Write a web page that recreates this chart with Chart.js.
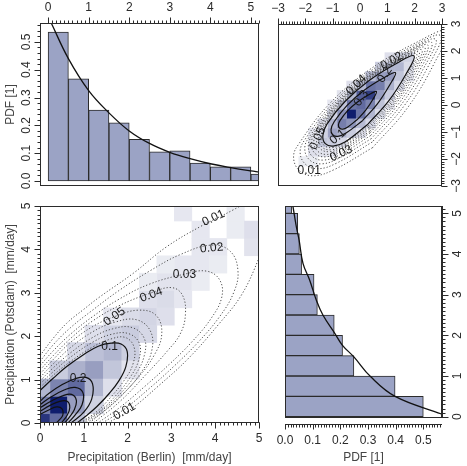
<!DOCTYPE html>
<html>
<head>
<meta charset="utf-8">
<script src="https://cdn.jsdelivr.net/npm/chart.js@4.4.1/dist/chart.umd.min.js"></script>
<style>
html, body { margin: 0; padding: 0; background: #fff; }
#wrap { position: relative; width: 467px; height: 466px; }
#wrap canvas { position: absolute; left: 0; top: 0; }
</style>
</head>
<body>
<div id="wrap">
  <canvas id="tl" width="467" height="466"></canvas>
  <canvas id="tr" width="467" height="466"></canvas>
  <canvas id="bl" width="467" height="466"></canvas>
  <canvas id="br" width="467" height="466"></canvas>
</div>
<script>
// marginal histograms, bins of 0.5 mm/day
var binMid = [0.25, 0.75, 1.25, 1.75, 2.25, 2.75, 3.25, 3.75, 4.25, 4.75, 5.25];
var berlinPdf = [0.535, 0.367, 0.255, 0.209, 0.150, 0.105, 0.108, 0.064, 0.051, 0.051, 0.025];
var potsdamPdf = [0.500, 0.398, 0.249, 0.208, 0.178, 0.117, 0.105, 0.060, 0.052, 0.046, 0.024];

// fitted marginal densities
var berlinFitX = [0.08, 0.5, 1.0, 1.5, 2.0, 2.5, 3.0, 3.5, 4.0, 4.5, 5.0, 5.2];
var berlinFitY = [0.567, 0.44, 0.325, 0.245, 0.18, 0.135, 0.103, 0.08, 0.062, 0.048, 0.036, 0.032];
var potsdamFitY = [0.066, 0.5, 0.98, 1.47, 1.76, 2.05, 2.5, 2.87, 3.36, 3.77, 4.34, 4.67, 5.16];
var potsdamFitX = [0.566, 0.398, 0.31, 0.249, 0.207, 0.18, 0.137, 0.113, 0.089, 0.065, 0.051, 0.041, 0.029];

// tick labels
var pdfTicks = [0, 0.1, 0.2, 0.3, 0.4, 0.5];
var mmTicks = [0, 1, 2, 3, 4, 5];
var normTicks = [-3, -2, -1, 0, 1, 2, 3];

// top right: normal-score space, cells of 0.35 [left, bottom, shade]
var trCellSize = 0.35;
var trCells = [
  [-1.9,-1.9,0.06],[-1.55,-1.55,0.14],[-1.2,-1.2,0.28],[-0.85,-0.85,0.45],[-0.5,-0.5,1.0],[-0.15,-0.15,0.55],
  [0.2,0.2,0.8],[0.55,0.55,0.45],[0.9,0.9,0.32],[1.25,1.25,0.2],[1.6,1.6,0.1],
  [-1.55,-1.9,0.05],[-1.2,-1.55,0.12],[-0.85,-1.2,0.22],[-0.5,-0.85,0.35],[-0.15,-0.5,0.5],[0.2,-0.15,0.42],
  [0.55,0.2,0.3],[0.9,0.55,0.22],[1.25,0.9,0.14],[1.6,1.25,0.07],
  [-1.9,-1.55,0.05],[-1.55,-1.2,0.1],[-1.2,-0.85,0.2],[-0.85,-0.5,0.35],[-0.5,-0.15,0.5],[-0.15,0.2,0.62],
  [0.2,0.55,0.5],[0.55,0.9,0.3],[0.9,1.25,0.2],[1.25,1.6,0.1],
  [-1.2,-1.9,0.04],[-0.85,-1.55,0.08],[-0.5,-1.2,0.12],[-0.15,-0.85,0.18],[0.2,-0.5,0.2],[0.55,-0.15,0.15],
  [0.9,0.2,0.12],[1.25,0.55,0.08],[1.6,0.9,0.05],
  [-1.9,-1.2,0.04],[-1.55,-0.85,0.06],[-1.2,-0.5,0.1],[-0.85,-0.15,0.15],[-0.5,0.2,0.2],[-0.15,0.55,0.2],
  [0.2,0.9,0.18],[0.55,1.25,0.12],[0.9,1.6,0.06],
  [-0.15,-1.2,0.06],[0.2,-0.85,0.08],[0.55,-0.5,0.07],[0.9,-0.15,0.05],[-0.85,0.2,0.05],[-0.5,0.55,0.06],
  [-1.2,-0.15,0.04],[-2.25,-2.25,0.03],[-1.9,-2.25,0.03]
];

// top right contours (closed)
var trC30 = [[-0.11,-0.55],[-0.46,-0.82],[-0.63,-0.89],[-0.75,-0.85],[-0.79,-0.73],[-0.72,-0.56],[-0.45,-0.21],[-0.09,0.11],[0.32,0.38],[0.6,0.5],[0.48,0.22],[0.21,-0.19],[-0.11,-0.55]];
var trC20 = [[0.09,-0.58],[-0.51,-1.04],[-0.81,-1.16],[-1.0,-1.1],[-1.06,-0.91],[-0.94,-0.61],[-0.48,-0.02],[0.13,0.53],[0.83,0.98],[1.3,1.2],[1.08,0.73],[0.63,0.03],[0.09,-0.58]];
var trC10 = [[0.29,-0.71],[-0.55,-1.37],[-0.98,-1.52],[-1.27,-1.43],[-1.36,-1.14],[-1.21,-0.71],[-0.55,0.13],[0.31,0.89],[1.3,1.52],[1.98,1.82],[1.68,1.14],[1.05,0.15],[0.29,-0.71]];
var trC09 = [[0.31,-0.77],[-0.57,-1.42],[-1.03,-1.58],[-1.33,-1.48],[-1.43,-1.18],[-1.27,-0.75],[-0.59,0.13],[0.31,0.93],[1.36,1.58],[2.07,1.89],[1.76,1.18],[1.11,0.13],[0.31,-0.77]];
var trC08 = [[0.33,-0.83],[-0.6,-1.5],[-1.08,-1.66],[-1.4,-1.55],[-1.51,-1.23],[-1.35,-0.8],[-0.63,0.13],[0.31,0.96],[1.41,1.64],[2.16,1.96],[1.84,1.21],[1.16,0.11],[0.33,-0.83]];
var trC07 = [[0.35,-0.89],[-0.62,-1.56],[-1.13,-1.73],[-1.47,-1.61],[-1.59,-1.27],[-1.42,-0.84],[-0.67,0.13],[0.32,1.0],[1.47,1.71],[2.26,2.04],[1.93,1.25],[1.22,0.1],[0.35,-0.89]];
var trC06 = [[0.36,-0.97],[-0.67,-1.65],[-1.2,-1.83],[-1.56,-1.7],[-1.69,-1.34],[-1.51,-0.91],[-0.73,0.12],[0.32,1.03],[1.54,1.78],[2.37,2.13],[2.02,1.3],[1.27,0.08],[0.36,-0.97]];
var trC05 = [[0.37,-1.03],[-0.71,-1.74],[-1.27,-1.92],[-1.65,-1.79],[-1.78,-1.41],[-1.6,-0.97],[-0.77,0.11],[0.33,1.07],[1.6,1.86],[2.48,2.22],[2.12,1.34],[1.33,0.07],[0.37,-1.03]];
var trC04 = [[0.39,-1.13],[-0.75,-1.85],[-1.34,-2.04],[-1.75,-1.9],[-1.89,-1.49],[-1.7,-1.05],[-0.83,0.09],[0.34,1.11],[1.69,1.94],[2.62,2.32],[2.24,1.39],[1.41,0.04],[0.39,-1.13]];
var trC03 = [[0.42,-1.24],[-0.79,-1.98],[-1.42,-2.18],[-1.86,-2.02],[-2.02,-1.58],[-1.82,-1.13],[-0.9,0.08],[0.34,1.16],[1.78,2.03],[2.77,2.43],[2.37,1.44],[1.5,0.0],[0.42,-1.24]];
var trC02 = [[0.45,-1.37],[-0.85,-2.15],[-1.54,-2.36],[-2.01,-2.18],[-2.19,-1.71],[-1.98,-1.23],[-0.99,0.07],[0.33,1.22],[1.88,2.15],[2.95,2.57],[2.53,1.5],[1.6,-0.05],[0.45,-1.37]];
var trC01 = [[0.46,-1.58],[-0.96,-2.4],[-1.71,-2.62],[-2.23,-2.42],[-2.43,-1.9],[-2.21,-1.4],[-1.14,0.02],[0.31,1.28],[2.01,2.29],[3.18,2.74],[2.73,1.57],[1.72,-0.13],[0.46,-1.58]];

var trLabelText = ['0.3', '0.2', '0.1', '0.05', '0.04', '0.03', '0.02', '0.01'];
var trLabelX = [0.05, 0.91, -0.81, -1.55, -0.13, -0.69, 1.16, -1.86];
var trLabelY = [0.25, 1.12, -1.18, -1.24, 0.74, -1.8, 1.63, -2.42];
var trLabelAngle = [-55, -55, -40, -65, -45, -25, -30, 0];

// bottom left: 2d histogram in mm/day, bin edges and [col, row, shade]
var blEdges = [0, 0.22, 0.62, 1.02, 1.44, 1.86, 2.26, 2.66, 3.06, 3.46, 3.86, 4.26, 4.66, 5.06];
var blCells = [
  [0,0,0.85],[1,1,1.0],[1,0,0.55],[0,1,0.45],[2,2,0.55],[1,2,0.42],[2,1,0.3],[0,2,0.2],[2,0,0.15],
  [3,3,0.3],[2,3,0.22],[3,2,0.2],[1,3,0.12],[3,1,0.1],[4,4,0.2],[3,4,0.16],[4,3,0.14],[2,4,0.08],[4,2,0.06],
  [5,5,0.12],[4,5,0.1],[5,4,0.11],[3,5,0.06],[5,3,0.05],[6,6,0.09],[5,6,0.07],[6,5,0.08],[4,6,0.04],
  [7,7,0.07],[6,7,0.06],[7,6,0.06],[8,8,0.05],[7,8,0.05],[8,7,0.04],[9,9,0.04],[8,9,0.04],[9,10,0.04],
  [10,10,0.04],[11,11,0.03],[12,10,0.05],[9,11,0.04],[8,12,0.04],[11,12,0.03],[12,11,0.06],[10,9,0.03],
  [7,9,0.03],[6,8,0.03],[9,8,0.03]
];

// bottom left contours, from the left edge round to the bottom edge
var blC60 = [[0,0.2],[0.2,0.3],[0.38,0.37],[0.5,0.33],[0.52,0.18],[0.44,0.07],[0.37,0]];
var blC50 = [[0,0.27],[0.22,0.4],[0.45,0.5],[0.62,0.5],[0.68,0.36],[0.62,0.18],[0.49,0]];
var blC40 = [[0,0.35],[0.25,0.5],[0.5,0.62],[0.72,0.66],[0.83,0.52],[0.78,0.3],[0.66,0.12],[0.56,0]];
var blC30 = [[0,0.42],[0.25,0.6],[0.55,0.76],[0.8,0.82],[0.98,0.7],[0.96,0.42],[0.8,0.18],[0.64,0]];
var blC20 = [[0,0.5],[0.2,0.68],[0.5,0.88],[0.8,1.02],[1.05,1.05],[1.2,0.9],[1.18,0.55],[1.0,0.25],[0.71,0]];
var blC10 = [[0,0.75],[0.3,1.03],[0.61,1.3],[1.0,1.58],[1.33,1.77],[1.62,1.84],[1.85,1.82],[1.99,1.65],[1.96,1.3],[1.8,0.97],[1.58,0.68],[1.3,0.38],[1.05,0.16],[0.84,0]];
var blC09 = [[0,0.82],[0.3,1.1],[0.7,1.42],[1.2,1.75],[1.6,1.93],[1.95,1.97],[2.15,1.74],[2.12,1.35],[1.92,0.98],[1.62,0.6],[1.28,0.25],[0.89,0]];
var blC08 = [[0,0.9],[0.3,1.18],[0.7,1.52],[1.2,1.86],[1.62,2.04],[2.02,2.06],[2.27,1.83],[2.25,1.44],[2.05,1.04],[1.72,0.62],[1.35,0.26],[0.94,0]];
var blC07 = [[0,0.97],[0.3,1.27],[0.7,1.62],[1.2,1.97],[1.66,2.17],[2.1,2.2],[2.38,1.95],[2.38,1.55],[2.17,1.1],[1.82,0.66],[1.42,0.29],[1.0,0]];
var blC06 = [[0,1.05],[0.3,1.36],[0.7,1.74],[1.2,2.1],[1.7,2.32],[2.2,2.38],[2.52,2.12],[2.55,1.66],[2.32,1.18],[1.93,0.7],[1.5,0.3],[1.06,0]];
var blC05 = [[0,1.13],[0.3,1.46],[0.7,1.86],[1.2,2.22],[1.7,2.45],[2.25,2.6],[2.65,2.48],[2.78,2.05],[2.6,1.55],[2.2,1.0],[1.68,0.47],[1.13,0]];
var blC04 = [[0,1.22],[0.3,1.55],[0.7,1.95],[1.2,2.35],[1.8,2.7],[2.54,3.0],[3.0,3.12],[3.25,2.95],[3.32,2.5],[3.2,2.05],[2.9,1.65],[2.45,1.15],[1.85,0.52],[1.22,0]];
var blC03 = [[0,1.32],[0.3,1.66],[0.7,2.05],[1.2,2.45],[1.8,2.85],[2.5,3.2],[3.3,3.43],[3.8,3.5],[4.1,3.3],[4.15,2.9],[3.9,2.4],[3.45,1.85],[2.95,1.35],[2.4,0.85],[1.85,0.38],[1.32,0]];
var blC02 = [[0,1.42],[0.3,1.8],[0.7,2.2],[1.2,2.6],[1.8,3.05],[2.5,3.5],[3.2,3.88],[3.92,4.1],[4.35,3.95],[4.52,3.5],[4.42,3.0],[4.1,2.45],[3.6,1.85],[3.05,1.3],[2.5,0.8],[1.9,0.3],[1.42,0]];
var blC01 = [[0,1.55],[0.3,1.95],[0.61,2.3],[1.0,2.62],[1.37,2.91],[2.13,3.45],[2.89,4.06],[3.65,4.52],[4.41,4.91],[4.9,5.2],[5.4,5.5],[5.5,4.9],[5.3,4.6],[5.0,3.8],[4.6,2.95],[4.1,2.3],[3.4,1.5],[2.7,0.85],[2.05,0.3],[1.55,0]];

var blLabelText = ['0.01', '0.02', '0.03', '0.04', '0.05', '0.1', '0.2', '0.01'];
var blLabelX = [3.96, 3.92, 3.3, 2.54, 1.7, 1.59, 0.87, 1.93];
var blLabelY = [4.72, 4.03, 3.41, 2.95, 2.45, 1.76, 1.03, 0.27];
var blLabelAngle = [-25, -5, 0, -20, -35, 0, 0, -30];

Chart.defaults.font.family = '"Liberation Sans", Arial, sans-serif';
Chart.defaults.font.size = 12;
Chart.defaults.color = '#333';

var barFill = '#9ba3c5';
var ink = '#2b2b2b';

function shade(v) {
  var t = Math.pow(v, 0.7);
  var r = Math.round(255 - t * 240), g = Math.round(255 - t * 226), b = Math.round(255 - t * 146);
  return 'rgb(' + r + ',' + g + ',' + b + ')';
}

function pts(list) {
  return list.map(function(p) { return {x: p[0], y: p[1]}; });
}

function contour(list, solid) {
  return {
    data: pts(list),
    showLine: true,
    pointRadius: 0,
    borderColor: solid ? '#111' : '#4d4d4d',
    borderWidth: solid ? 1.2 : 1,
    borderDash: solid ? [] : [1.2, 2],
    tension: 0.4,
    fill: false,
    clip: 0
  };
}

function fixSize(size) {
  return function(scale) {
    if (scale.isHorizontal()) scale.height = size; else scale.width = size;
    scale.paddingLeft = 0; scale.paddingRight = 0; scale.paddingTop = 0; scale.paddingBottom = 0;
  };
}

function setTicks(values) {
  return function(scale) {
    scale.ticks = values.map(function(v) { return {value: v}; });
  };
}

function minus(v) { return String(v).replace('-', '\u2212'); }
function oneDec(v) { return v.toFixed(1); }

function axisScale(o) {
  var s = {
    type: 'linear',
    position: o.position,
    min: o.min,
    max: o.max,
    offset: false,
    grid: { display: false, drawTicks: false, offset: false },
    border: { display: false },
    afterBuildTicks: setTicks(o.ticks),
    afterFit: fixSize(o.size),
    ticks: {
      autoSkip: false,
      padding: o.pad,
      color: ink,
      font: { size: 12 },
      callback: o.fmt
    }
  };
  if (o.rotate) {
    s.ticks.minRotation = 90;
    s.ticks.maxRotation = 90;
    s.ticks.crossAlign = 'center';
  }
  if (o.title) {
    s.title = { display: true, text: o.title, color: '#444', font: { size: 12 }, padding: o.titlePad };
  }
  return s;
}

// frame, major/minor tick marks and offset axis lines
function framePlugin(specs) {
  return {
    id: 'frame',
    afterDraw: function(chart) {
      var ctx = chart.ctx, a = chart.chartArea;
      ctx.save();
      ctx.setLineDash([]);
      ctx.strokeStyle = ink;
      ctx.lineWidth = 1;
      ctx.strokeRect(a.left + 0.5, a.top + 0.5, a.right - a.left - 1, a.bottom - a.top - 1);
      specs.forEach(function(s) {
        var sc = chart.scales[s.id];
        var horiz = s.side === 'top' || s.side === 'bottom';
        var base, dir;
        if (s.side === 'top') { base = a.top + 0.5 - s.offset; dir = -1; }
        else if (s.side === 'bottom') { base = a.bottom - 0.5 + s.offset; dir = 1; }
        else if (s.side === 'left') { base = a.left + 0.5 - s.offset; dir = -1; }
        else { base = a.right - 0.5 + s.offset; dir = 1; }
        var marks = [];
        for (var v = s.from; v <= s.to + 1e-9; v += s.step) marks.push([v, s.minorLen]);
        s.major.forEach(function(m) { marks.push([m, s.majorLen]); });
        ctx.beginPath();
        if (s.offset > 0) {
          var p0 = sc.getPixelForValue(s.lineFrom), p1 = sc.getPixelForValue(s.lineTo);
          if (horiz) { ctx.moveTo(p0, base); ctx.lineTo(p1, base); }
          else { ctx.moveTo(base, p0); ctx.lineTo(base, p1); }
        }
        marks.forEach(function(mk) {
          var p = Math.round(sc.getPixelForValue(mk[0])) + 0.5;
          if (horiz) { ctx.moveTo(p, base); ctx.lineTo(p, base + dir * mk[1]); }
          else { ctx.moveTo(base, p); ctx.lineTo(base + dir * mk[1], p); }
        });
        ctx.stroke();
      });
      ctx.restore();
    }
  };
}

function cellPlugin(rects) {
  return {
    id: 'cells',
    beforeDatasetsDraw: function(chart) {
      var ctx = chart.ctx, a = chart.chartArea, xs = chart.scales.x, ys = chart.scales.y;
      ctx.save();
      ctx.beginPath();
      ctx.rect(a.left, a.top, a.right - a.left, a.bottom - a.top);
      ctx.clip();
      rects.forEach(function(c) {
        var x0 = xs.getPixelForValue(c[0]), x1 = xs.getPixelForValue(c[1]);
        var y0 = ys.getPixelForValue(c[2]), y1 = ys.getPixelForValue(c[3]);
        ctx.fillStyle = shade(c[4]);
        ctx.fillRect(Math.min(x0, x1), Math.min(y0, y1), Math.abs(x1 - x0) + 0.6, Math.abs(y1 - y0) + 0.6);
      });
      ctx.restore();
    }
  };
}

function labelPlugin(text, xs, ys, angles) {
  return {
    id: 'clabels',
    afterDatasetsDraw: function(chart) {
      var ctx = chart.ctx, sx = chart.scales.x, sy = chart.scales.y, a = chart.chartArea;
      ctx.save();
      ctx.beginPath();
      ctx.rect(a.left, a.top, a.right - a.left, a.bottom - a.top);
      ctx.clip();
      ctx.font = '12px "Liberation Sans", Arial, sans-serif';
      ctx.fillStyle = '#1a1a1a';
      ctx.textAlign = 'center';
      ctx.textBaseline = 'middle';
      text.forEach(function(t, i) {
        ctx.save();
        ctx.translate(sx.getPixelForValue(xs[i]), sy.getPixelForValue(ys[i]));
        ctx.rotate(angles[i] * Math.PI / 180);
        ctx.fillText(t, 0, 0);
        ctx.restore();
      });
      ctx.restore();
    }
  };
}

var common = {
  responsive: false,
  animation: false,
  devicePixelRatio: 1,
  events: [],
  plugins: { legend: { display: false }, tooltip: { enabled: false } },
  elements: { line: { capBezierPoints: false } }
};

function opts(extra) {
  return Object.assign({}, common, extra);
}

// ---- top left: Berlin marginal ----
new Chart(document.getElementById('tl').getContext('2d'), {
  type: 'bar',
  data: {
    datasets: [
      {
        type: 'line',
        data: berlinFitX.map(function(x, i) { return {x: x, y: berlinFitY[i]}; }),
        borderColor: '#111', borderWidth: 1.3, pointRadius: 0, tension: 0.4, fill: false, clip: 0, order: 0
      },
      {
        data: binMid.map(function(x, i) { return {x: x, y: berlinPdf[i]}; }),
        backgroundColor: barFill, borderColor: ink, borderWidth: 1, borderSkipped: false,
        barPercentage: 1, categoryPercentage: 1, clip: 0, order: 1
      }
    ]
  },
  options: opts({
    layout: { padding: { left: 0, top: 0, right: 208, bottom: 280 } },
    scales: {
      x: axisScale({ position: 'top', min: -0.2, max: 5.2, ticks: mmTicks, size: 23, pad: 8, fmt: minus }),
      y: axisScale({ position: 'left', min: -0.018, max: 0.568, ticks: pdfTicks, size: 40, pad: 5, fmt: oneDec,
                     rotate: true, title: 'PDF [1]', titlePad: { top: 3 } })
    }
  }),
  plugins: [framePlugin([
    { id: 'x', side: 'top', offset: 0, major: mmTicks, majorLen: 6, from: 0, to: 5.2, step: 0.1, minorLen: 3 },
    { id: 'y', side: 'left', offset: 0, major: pdfTicks, majorLen: 6, from: 0, to: 0.56, step: 0.02, minorLen: 3 }
  ])]
});

// ---- top right: normal-score space ----
var trRects = trCells.map(function(c) { return [c[0], c[0] + trCellSize, c[1], c[1] + trCellSize, c[2]]; });
new Chart(document.getElementById('tr').getContext('2d'), {
  type: 'scatter',
  data: {
    datasets: [trC30, trC20, trC10].map(function(c) { return contour(c, true); })
      .concat([trC09, trC08, trC07, trC06, trC05, trC04, trC03, trC02, trC01].map(function(c) { return contour(c, false); }))
  },
  options: opts({
    layout: { padding: { left: 278, top: 0, right: 0, bottom: 280 } },
    scales: {
      x: axisScale({ position: 'top', min: -3, max: 3, ticks: normTicks, size: 24, pad: 8, fmt: minus }),
      y: axisScale({ position: 'right', min: -3, max: 3, ticks: normTicks, size: 25, pad: 8, fmt: minus, rotate: true })
    }
  }),
  plugins: [cellPlugin(trRects), labelPlugin(trLabelText, trLabelX, trLabelY, trLabelAngle), framePlugin([
    { id: 'x', side: 'top', offset: 0, major: normTicks, majorLen: 6, from: -3, to: 3, step: 0.1, minorLen: 3 },
    { id: 'y', side: 'right', offset: 0, major: normTicks, majorLen: 6, from: -3, to: 3, step: 0.1, minorLen: 3 }
  ])]
});

// ---- bottom left: joint density in mm/day ----
var blRects = blCells.map(function(c) { return [blEdges[c[0]], blEdges[c[0] + 1], blEdges[c[1]], blEdges[c[1] + 1], c[2]]; });
new Chart(document.getElementById('bl').getContext('2d'), {
  type: 'scatter',
  data: {
    datasets: [blC60, blC50, blC40, blC30, blC20, blC10].map(function(c) { return contour(c, true); })
      .concat([blC09, blC08, blC07, blC06, blC05, blC04, blC03, blC02, blC01].map(function(c) { return contour(c, false); }))
  },
  options: opts({
    layout: { padding: { left: 0, top: 206, right: 208, bottom: 0 } },
    scales: {
      x: axisScale({ position: 'bottom', min: 0, max: 5, ticks: mmTicks, size: 43, pad: 8, fmt: minus,
                     title: 'Precipitation (Berlin)  [mm/day]', titlePad: { bottom: 1 } }),
      y: axisScale({ position: 'left', min: 0, max: 5, ticks: mmTicks, size: 40, pad: 10, fmt: minus, rotate: true,
                     title: 'Precipitation (Potsdam)  [mm/day]', titlePad: { top: 3 } })
    }
  }),
  plugins: [cellPlugin(blRects), labelPlugin(blLabelText, blLabelX, blLabelY, blLabelAngle), framePlugin([
    { id: 'x', side: 'bottom', offset: 0, major: mmTicks, majorLen: 6, from: 0, to: 5, step: 0.1, minorLen: 3 },
    { id: 'y', side: 'left', offset: 0, major: mmTicks, majorLen: 6, from: 0, to: 5, step: 0.1, minorLen: 3 }
  ])]
});

// ---- bottom right: Potsdam marginal ----
new Chart(document.getElementById('br').getContext('2d'), {
  type: 'bar',
  data: {
    datasets: [
      {
        type: 'line',
        data: potsdamFitX.map(function(x, i) { return {x: x, y: potsdamFitY[i]}; }),
        borderColor: '#111', borderWidth: 1.3, pointRadius: 0, tension: 0.4, fill: false, clip: 0, order: 0
      },
      {
        indexAxis: 'y',
        data: binMid.map(function(y, i) { return {x: potsdamPdf[i], y: y}; }),
        backgroundColor: barFill, borderColor: ink, borderWidth: 1, borderSkipped: false,
        barPercentage: 1, categoryPercentage: 1, clip: 0, order: 1
      }
    ]
  },
  options: opts({
    indexAxis: 'y',
    layout: { padding: { left: 285, top: 206, right: 0, bottom: 0 } },
    scales: {
      x: axisScale({ position: 'bottom', min: 0, max: 0.5676, ticks: pdfTicks, size: 48, pad: 15, fmt: oneDec,
                     title: 'PDF [1]', titlePad: { bottom: 1 } }),
      y: axisScale({ position: 'right', min: -0.032, max: 5.18, ticks: mmTicks, size: 25, pad: 12, fmt: minus, rotate: true })
    }
  }),
  plugins: [framePlugin([
    { id: 'x', side: 'bottom', offset: 7, lineFrom: 0, lineTo: 0.5676, major: pdfTicks, majorLen: 5, from: 0, to: 0.56, step: 0.01, minorLen: 3 },
    { id: 'y', side: 'right', offset: 1, lineFrom: -0.032, lineTo: 5.18, major: mmTicks, majorLen: 6, from: 0, to: 5.1, step: 0.1, minorLen: 3 }
  ])]
});
</script>
</body>
</html>
